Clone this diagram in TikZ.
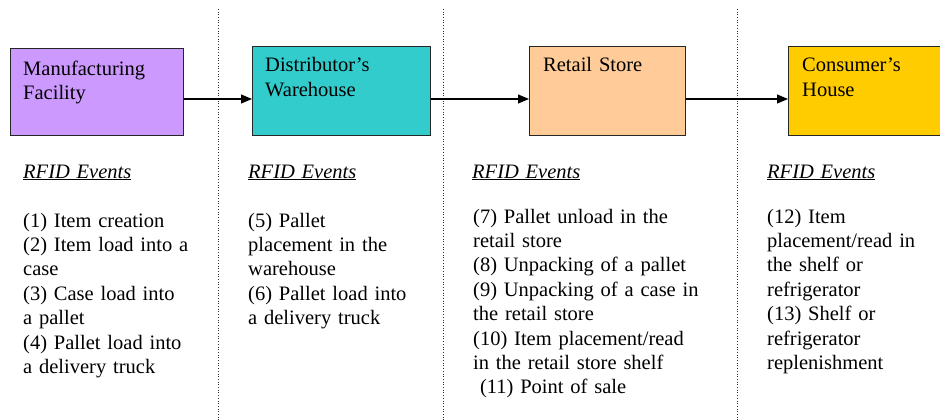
\documentclass[tikz,border=0pt]{standalone}
\usepackage{fontspec}
\setmainfont{Liberation Serif}
\usetikzlibrary{arrows.meta}
\definecolor{mfgpurple}{HTML}{CC99FF}
\definecolor{distteal}{HTML}{33CCCC}
\definecolor{retailpeach}{HTML}{FFCC99}
\definecolor{homegold}{HTML}{FFCC00}
\begin{document}
\begin{tikzpicture}[x=1pt, y=-1pt,
  stage/.style={draw=black!85, line width=0.9pt, anchor=north west, inner sep=0, minimum height=89pt},
  stagetext/.style={font=\fontsize{20.5}{24.4}\selectfont, text width=170pt, align=left, inner sep=0, anchor=base west},
  events/.style={font=\fontsize{20.5}{24.4}\selectfont, text width=280pt, align=left, inner sep=0, anchor=base west},
  flow/.style={line width=1.1pt, -{Triangle[length=11pt,width=9pt]}}]
\useasboundingbox (0,0) rectangle (940,420);
% column separators
\foreach \x in {218,443,737} {
 \draw[dotted, line width=0.7pt, black!80] (\x,9) -- (\x,420);
}
% stages
\node[stage, fill=mfgpurple, minimum width=173pt, minimum height=87pt] (mfg) at (10,48) {};
\node[stage, fill=distteal, minimum width=178pt] (dist) at (252,46) {};
\node[stage, fill=retailpeach, minimum width=156pt] (retail) at (529,46) {};
\node[stage, fill=homegold, minimum width=170pt] (home) at (788,46) {};
\node[stagetext] (mfgt) at ([shift={(13,27)}]mfg.north west) {Manufacturing\\Facility};
\node[stagetext] (distt) at ([shift={(13,26)}]dist.north west) {Distributor’s\\Warehouse};
\node[stagetext] (retailt) at ([shift={(14,26)}]retail.north west) {Retail Store};
\node[stagetext] (homet) at ([shift={(14,26)}]home.north west) {Consumer’s\\House};
% flow between stages
\coordinate (flowy) at (0,99);
\draw[flow] (mfg.east |- flowy) -- (dist.west |- flowy);
\draw[flow] (dist.east |- flowy) -- (retail.west |- flowy);
\draw[flow] (retail.east |- flowy) -- (home.west |- flowy);
% RFID events
\foreach \x/\n in {23/mfgh, 248/disth, 472/retailh, 767/homeh} {
 \node[events] (\n) at (\x,178) {\underline{\textit{RFID Events}}};
}
\node[events] (mfgev) at (23,227) {(1) Item creation\\(2) Item load into a\\case\\(3) Case load into\\a pallet\\(4) Pallet load into\\a delivery truck};
\node[events] (distev) at (248,227) {(5) Pallet\\placement in the\\warehouse\\(6) Pallet load into\\a delivery truck};
\node[events] (retailev) at (473,223) {(7) Pallet unload in the\\retail store\\(8) Unpacking of a pallet\\(9) Unpacking of a case in\\the retail store\\(10) Item placement/read\\in the retail store shelf\\\ (11) Point of sale};
\node[events] (homeev) at (767,223) {(12) Item\\placement/read in\\the shelf or\\refrigerator\\(13) Shelf or\\refrigerator\\replenishment};
\end{tikzpicture}
\end{document}
